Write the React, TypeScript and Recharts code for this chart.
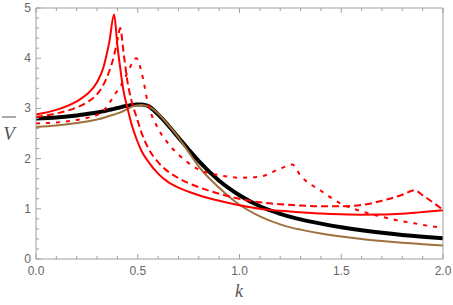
import { LineChart, Line, XAxis, YAxis } from "recharts";

// k grid shared by all curves (finer near the resonance peaks)
const kValues = [0, 0.1, 0.2, 0.25, 0.3, 0.33, 0.36, 0.384, 0.4, 0.414, 0.43, 0.45, 0.47, 0.493, 0.52, 0.55, 0.6, 0.65, 0.7, 0.75, 0.8, 0.9, 1.0, 1.1, 1.2, 1.26, 1.3, 1.4, 1.5, 1.6, 1.7, 1.8, 1.86, 1.9, 2.0];

const solidV = [2.88, 2.97, 3.14, 3.28, 3.52, 3.8, 4.32, 4.87, 4.25, 3.8, 3.35, 3.0, 2.68, 2.4, 2.14, 1.95, 1.7, 1.53, 1.42, 1.34, 1.27, 1.16, 1.07, 1.0, 0.96, 0.94, 0.93, 0.905, 0.89, 0.883, 0.886, 0.903, 0.92, 0.935, 0.97];
const dashedV = [2.83, 2.9, 3.02, 3.12, 3.28, 3.46, 3.74, 4.06, 4.36, 4.6, 4.12, 3.52, 3.14, 2.84, 2.5, 2.22, 1.93, 1.74, 1.61, 1.51, 1.43, 1.3, 1.2, 1.13, 1.09, 1.075, 1.065, 1.05, 1.05, 1.075, 1.16, 1.28, 1.37, 1.27, 0.98];
const dottedV = [2.7, 2.72, 2.77, 2.81, 2.87, 2.95, 3.1, 3.26, 3.35, 3.43, 3.55, 3.72, 3.88, 4.0, 3.7, 3.1, 2.6, 2.3, 2.08, 1.91, 1.78, 1.67, 1.62, 1.64, 1.8, 1.88, 1.66, 1.36, 1.1, 0.95, 0.84, 0.75, 0.71, 0.68, 0.62];
const blackV = [2.8, 2.82, 2.86, 2.89, 2.92, 2.94, 2.97, 2.99, 3.01, 3.02, 3.04, 3.05, 3.07, 3.08, 3.08, 3.05, 2.88, 2.66, 2.42, 2.18, 1.95, 1.56, 1.27, 1.05, 0.9, 0.83, 0.79, 0.705, 0.632, 0.572, 0.522, 0.48, 0.458, 0.444, 0.412];
const brownV = [2.63, 2.66, 2.71, 2.74, 2.78, 2.81, 2.85, 2.88, 2.9, 2.92, 2.95, 2.99, 3.03, 3.06, 3.07, 3.04, 2.9, 2.67, 2.42, 2.13, 1.84, 1.42, 1.08, 0.85, 0.69, 0.62, 0.585, 0.51, 0.45, 0.4, 0.36, 0.325, 0.307, 0.295, 0.27];

const xTicks = [0, 0.1, 0.2, 0.3, 0.4, 0.5, 0.6, 0.7, 0.8, 0.9, 1.0, 1.1, 1.2, 1.3, 1.4, 1.5, 1.6, 1.7, 1.8, 1.9, 2.0];
const yTicks = [0, 0.2, 0.4, 0.6, 0.8, 1, 1.2, 1.4, 1.6, 1.8, 2, 2.2, 2.4, 2.6, 2.8, 3, 3.2, 3.4, 3.6, 3.8, 4, 4.2, 4.4, 4.6, 4.8, 5];

const data = kValues.map((k, i) => ({
  k,
  solid: solidV[i],
  dashed: dashedV[i],
  dotted: dottedV[i],
  black: blackV[i],
  brown: brownV[i],
}));

const FRAME = "#a0a0a0";
const LABEL = "#666";
const FONT = "'Liberation Sans', Arial, sans-serif";

const isMajor = (v: number, step: number) =>
  Math.abs(v / step - Math.round(v / step)) < 1e-6;

// ticks point inward, like a Mathematica frame
const BottomTick = ({ x, y, payload }: any) => {
  const major = isMajor(payload.value, 0.5);
  return (
    <g>
      <line x1={x} y1={y} x2={x} y2={y - (major ? 5 : 3)} stroke={FRAME} />
      {major && (
        <text x={x} y={y + 16} textAnchor="middle" fill={LABEL} fontSize={12} fontFamily={FONT}>
          {payload.value.toFixed(1)}
        </text>
      )}
    </g>
  );
};

const TopTick = ({ x, y, payload }: any) => {
  const major = isMajor(payload.value, 0.5);
  return <line x1={x} y1={y} x2={x} y2={y + (major ? 5 : 3)} stroke={FRAME} />;
};

const LeftTick = ({ x, y, payload }: any) => {
  const major = isMajor(payload.value, 1);
  return (
    <g>
      <line x1={x} y1={y} x2={x + (major ? 5 : 3)} y2={y} stroke={FRAME} />
      {major && (
        <text x={x - 5} y={y + 4} textAnchor="end" fill={LABEL} fontSize={12} fontFamily={FONT}>
          {payload.value}
        </text>
      )}
    </g>
  );
};

const RightTick = ({ x, y, payload }: any) => {
  const major = isMajor(payload.value, 1);
  return <line x1={x} y1={y} x2={x - (major ? 5 : 3)} y2={y} stroke={FRAME} />;
};

export default function App() {
  return (
    <div style={{ position: "relative", width: 453, height: 305 }}>
      <style>{`body{margin:0}`}</style>
      <LineChart width={453} height={305} data={data} margin={{ top: 0, right: 0, bottom: 0, left: 0 }}>
        <XAxis
          dataKey="k"
          type="number"
          domain={[0, 2]}
          ticks={xTicks}
          interval={0}
          height={46}
          tickSize={0}
          tickMargin={0}
          tickLine={false}
          axisLine={{ stroke: FRAME }}
          tick={<BottomTick />}
        />
        <XAxis
          xAxisId="top"
          orientation="top"
          dataKey="k"
          type="number"
          domain={[0, 2]}
          ticks={xTicks}
          interval={0}
          height={8}
          tickSize={0}
          tickMargin={0}
          tickLine={false}
          axisLine={{ stroke: FRAME }}
          tick={<TopTick />}
        />
        <YAxis
          type="number"
          domain={[0, 5]}
          ticks={yTicks}
          interval={0}
          width={36}
          tickSize={0}
          tickMargin={0}
          tickLine={false}
          axisLine={{ stroke: FRAME }}
          tick={<LeftTick />}
        />
        <YAxis
          yAxisId="right"
          orientation="right"
          type="number"
          domain={[0, 5]}
          ticks={yTicks}
          interval={0}
          width={10}
          tickSize={0}
          tickMargin={0}
          tickLine={false}
          axisLine={{ stroke: FRAME }}
          tick={<RightTick />}
        />
        <Line dataKey="black" type="monotone" stroke="#000" strokeWidth={4} dot={false} isAnimationActive={false} />
        <Line dataKey="brown" type="monotone" stroke="#a0703c" strokeWidth={2} dot={false} isAnimationActive={false} />
        <Line dataKey="dotted" type="monotone" stroke="#ff0000" strokeWidth={2} strokeDasharray="4 6" dot={false} isAnimationActive={false} />
        <Line dataKey="dashed" type="monotone" stroke="#ff0000" strokeWidth={2} strokeDasharray="7 4" dot={false} isAnimationActive={false} />
        <Line dataKey="solid" type="monotone" stroke="#ff0000" strokeWidth={2} dot={false} isAnimationActive={false} />
      </LineChart>
      <svg width={453} height={305} style={{ position: "absolute", left: 0, top: 0, pointerEvents: "none" }}>
        <text x={239} y={297} textAnchor="middle" fontSize={18} fontStyle="italic" fontFamily="'Liberation Serif', 'Times New Roman', serif" fill="#555">
          k
        </text>
        <line x1={2} y1={117} x2={16} y2={117} stroke="#555" strokeWidth={1} />
        <text x={9} y={140} textAnchor="middle" fontSize={19} fontStyle="italic" fontFamily="'Liberation Serif', 'Times New Roman', serif" fill="#555">
          V
        </text>
      </svg>
    </div>
  );
}
